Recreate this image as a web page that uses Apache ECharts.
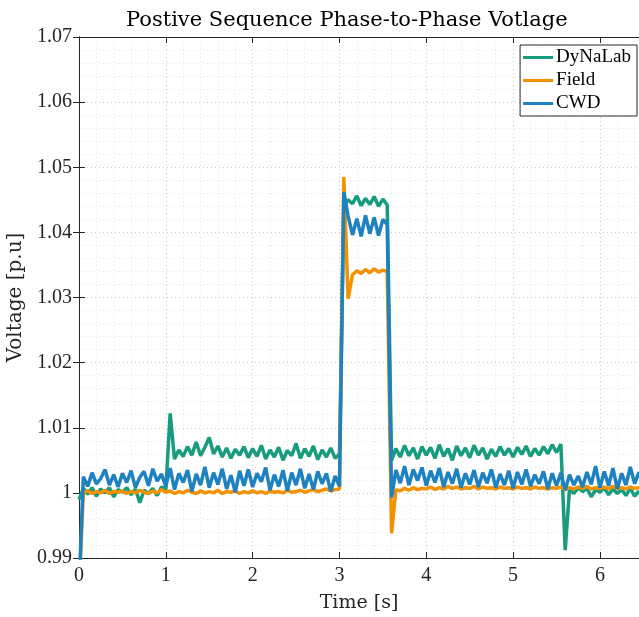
<!DOCTYPE html>
<html>
<head>
<meta charset="utf-8">
<script src="https://cdn.jsdelivr.net/npm/echarts@6/dist/echarts.min.js"></script>
<style>
  html, body { margin: 0; padding: 0; background: #fff; }
  #chart { width: 639px; height: 617px; }
</style>
</head>
<body>
<div id="chart"></div>
<script>
// sample times [s]
var time = [
    0.00, 0.05, 0.10, 0.15, 0.20, 0.25, 0.30, 0.35, 0.40, 0.45,
    0.50, 0.55, 0.60, 0.65, 0.70, 0.75, 0.80, 0.85, 0.90, 0.95,
    1.00, 1.05, 1.10, 1.15, 1.20, 1.25, 1.30, 1.35, 1.40, 1.45,
    1.50, 1.55, 1.60, 1.65, 1.70, 1.75, 1.80, 1.85, 1.90, 1.95,
    2.00, 2.05, 2.10, 2.15, 2.20, 2.25, 2.30, 2.35, 2.40, 2.45,
    2.50, 2.55, 2.60, 2.65, 2.70, 2.75, 2.80, 2.85, 2.90, 2.95,
    3.00, 3.05, 3.10, 3.15, 3.20, 3.25, 3.30, 3.35, 3.40, 3.45,
    3.50, 3.55, 3.60, 3.65, 3.70, 3.75, 3.80, 3.85, 3.90, 3.95,
    4.00, 4.05, 4.10, 4.15, 4.20, 4.25, 4.30, 4.35, 4.40, 4.45,
    4.50, 4.55, 4.60, 4.65, 4.70, 4.75, 4.80, 4.85, 4.90, 4.95,
    5.00, 5.05, 5.10, 5.15, 5.20, 5.25, 5.30, 5.35, 5.40, 5.45,
    5.50, 5.55, 5.60, 5.65, 5.70, 5.75, 5.80, 5.85, 5.90, 5.95,
    6.00, 6.05, 6.10, 6.15, 6.20, 6.25, 6.30, 6.35, 6.40, 6.45
];

var dynalab = [
    0.9990, 1.0007, 0.9998, 1.0008, 0.9995, 1.0006, 1.0000, 1.0008, 0.9994, 1.0005,
    1.0001, 1.0008, 0.9997, 1.0006, 0.9985, 1.0004, 0.9999, 1.0007, 0.9996, 1.0009,
    1.0005, 1.0122, 1.0052, 1.0066, 1.0056, 1.0071, 1.0058, 1.0078, 1.0057, 1.0070,
    1.0085, 1.0060, 1.0072, 1.0055, 1.0069, 1.0053, 1.0067, 1.0058, 1.0071, 1.0054,
    1.0068, 1.0056, 1.0073, 1.0052, 1.0066, 1.0055, 1.0070, 1.0050, 1.0065, 1.0057,
    1.0076, 1.0053, 1.0068, 1.0056, 1.0072, 1.0051, 1.0066, 1.0055, 1.0069, 1.0053,
    1.0060, 1.0440, 1.0450, 1.0444, 1.0456, 1.0441, 1.0452, 1.0443, 1.0455, 1.0440,
    1.0451, 1.0442, 1.0050, 1.0068, 1.0055, 1.0073, 1.0057, 1.0069, 1.0052, 1.0071,
    1.0058, 1.0070, 1.0053, 1.0074, 1.0056, 1.0068, 1.0050, 1.0072, 1.0057, 1.0069,
    1.0054, 1.0073, 1.0058, 1.0069, 1.0052, 1.0067, 1.0056, 1.0071, 1.0058, 1.0068,
    1.0055, 1.0070, 1.0059, 1.0072, 1.0056, 1.0068, 1.0058, 1.0071, 1.0060, 1.0074,
    1.0062, 1.0075, 0.9912, 1.0006, 0.9999, 1.0008, 1.0002, 1.0007, 0.9994, 1.0005,
    1.0001, 1.0008, 0.9997, 1.0006, 0.9999, 1.0005, 0.9996, 1.0007, 0.9995, 1.0003
];

var field = [
    0.9850, 1.0000, 1.0003, 0.9999, 1.0002, 1.0000, 1.0004, 0.9999, 1.0002, 1.0001,
    1.0003, 0.9999, 1.0002, 1.0000, 1.0004, 1.0001, 0.9999, 1.0003, 1.0000, 1.0005,
    1.0001, 1.0003, 0.9999, 1.0002, 1.0000, 1.0004, 1.0001, 0.9999, 1.0003, 1.0000,
    1.0002, 1.0000, 1.0004, 0.9999, 1.0002, 1.0001, 1.0003, 0.9999, 1.0002, 1.0000,
    1.0003, 1.0000, 1.0002, 0.9999, 1.0003, 1.0001, 1.0002, 1.0000, 1.0004, 1.0001,
    1.0002, 1.0004, 1.0001, 1.0003, 1.0005, 1.0002, 1.0004, 1.0006, 1.0003, 1.0005,
    1.0006, 1.0485, 1.0298, 1.0335, 1.0341, 1.0337, 1.0343, 1.0338, 1.0344, 1.0339,
    1.0342, 1.0340, 0.9938, 1.0005, 1.0003, 1.0007, 1.0004, 1.0008, 1.0005, 1.0007,
    1.0006, 1.0009, 1.0005, 1.0008, 1.0006, 1.0010, 1.0007, 1.0009, 1.0006, 1.0008,
    1.0007, 1.0010, 1.0006, 1.0009, 1.0007, 1.0008, 1.0006, 1.0009, 1.0007, 1.0008,
    1.0006, 1.0009, 1.0007, 1.0008, 1.0006, 1.0009, 1.0007, 1.0008, 1.0006, 1.0008,
    1.0007, 1.0009, 1.0005, 1.0008, 1.0006, 1.0009, 1.0007, 1.0010, 1.0006, 1.0008,
    1.0007, 1.0009, 1.0006, 1.0010, 1.0007, 1.0008, 1.0006, 1.0009, 1.0007, 1.0008
];

var cwd = [
    0.9850, 1.0025, 1.0010, 1.0031, 1.0014, 1.0022, 1.0036, 1.0012, 1.0028, 1.0009,
    1.0030, 1.0016, 1.0034, 1.0008, 1.0024, 1.0033, 1.0011, 1.0037, 1.0018, 1.0029,
    1.0010, 1.0038, 1.0005, 1.0030, 1.0016, 1.0035, 1.0002, 1.0029, 1.0012, 1.0040,
    1.0008, 1.0031, 1.0013, 1.0037, 1.0006, 1.0027, 1.0001, 1.0034, 1.0011, 1.0036,
    1.0009, 1.0030, 1.0017, 1.0039, 1.0004, 1.0028, 1.0010, 1.0035, 1.0003, 1.0031,
    1.0012, 1.0037, 1.0007, 1.0029, 1.0005, 1.0033, 1.0014, 1.0030, 1.0002, 1.0026,
    1.0010, 1.0462, 1.0425, 1.0396, 1.0421, 1.0394, 1.0426, 1.0398, 1.0423, 1.0395,
    1.0420, 1.0412, 0.9993, 1.0035, 1.0015, 1.0041, 1.0012, 1.0036, 1.0019, 1.0039,
    1.0011, 1.0034, 1.0016, 1.0038, 1.0009, 1.0032, 1.0014, 1.0037, 1.0008, 1.0030,
    1.0013, 1.0035, 1.0009, 1.0031, 1.0015, 1.0036, 1.0008, 1.0029, 1.0012, 1.0034,
    1.0007, 1.0032, 1.0013, 1.0036, 1.0010, 1.0028, 1.0014, 1.0033, 1.0006, 1.0030,
    1.0011, 1.0031, 1.0004, 1.0028, 1.0012, 1.0026, 1.0009, 1.0032, 1.0013, 1.0041,
    1.0008, 1.0033, 1.0011, 1.0038, 1.0006, 1.0030, 1.0012, 1.0040, 1.0014, 1.0032
];

var seriesNames = ['DyNaLab', 'Field', 'CWD'];
var colors = ['#179c7d', '#f39200', '#1f82c0'];

function pairs(values) {
    return time.map(function (t, i) { return [t, values[i]]; });
}

var font = 'Liberation Serif';
var wideFont = 'DejaVu Serif';
var axisColor = '#262626';

var chart = echarts.init(document.getElementById('chart'), null, { renderer: 'canvas' });

var boxAxis = {
    axisLine: { show: true, lineStyle: { color: axisColor, width: 1 } },
    axisTick: { show: true, inside: true, length: 6, lineStyle: { color: axisColor } },
    axisLabel: { show: false },
    splitLine: { show: false }
};

var option = {
    animation: false,
    backgroundColor: '#fff',
    color: colors,
    title: {
        text: 'Postive Sequence Phase-to-Phase Votlage',
        left: 121,
        top: 5,
        textStyle: { fontFamily: wideFont, fontSize: 21, fontWeight: 'normal', color: '#000' }
    },
    legend: {
        orient: 'vertical',
        right: 2,
        top: 45,
        data: seriesNames,
        icon: 'rect',
        itemWidth: 30,
        itemHeight: 3,
        itemGap: 4,
        padding: [3, 6, 3, 3],
        backgroundColor: '#fff',
        borderColor: axisColor,
        borderWidth: 1,
        textStyle: { fontFamily: font, fontSize: 19, color: '#000', padding: [0, 0, 0, -2] }
    },
    grid: { left: 79, right: 0, top: 37, bottom: 59, containLabel: false, outerBoundsMode: 'none' },
    xAxis: [{
        type: 'value',
        min: 0,
        max: 6.45,
        interval: 1,
        name: 'Time [s]',
        nameLocation: 'middle',
        nameGap: 36,
        nameTextStyle: { fontFamily: wideFont, fontSize: 19, color: axisColor },
        axisLine: { show: true, lineStyle: { color: axisColor, width: 1 } },
        axisTick: { show: true, inside: true, length: 6, lineStyle: { color: axisColor } },
        axisLabel: { fontFamily: font, fontSize: 20, color: axisColor, margin: 8, showMaxLabel: false },
        minorTick: { show: false, splitNumber: 5 },
        splitLine: { show: true, lineStyle: { color: '#c8c8c8', type: [1, 3] } },
        minorSplitLine: { show: true, lineStyle: { color: '#e6e6e6', type: [1, 3] } }
    }, Object.assign({
        type: 'value', position: 'top', min: 0, max: 6.45, interval: 1
    }, boxAxis)],
    yAxis: [{
        type: 'value',
        min: 0.99,
        max: 1.07,
        interval: 0.01,
        name: 'Voltage [p.u]',
        nameLocation: 'middle',
        nameGap: 47,
        nameTextStyle: { fontFamily: wideFont, fontSize: 20, color: axisColor },
        axisLine: { show: true, lineStyle: { color: axisColor, width: 1 } },
        axisTick: { show: true, inside: true, length: 6, lineStyle: { color: axisColor } },
        axisLabel: {
            fontFamily: font, fontSize: 20, color: axisColor, margin: 7,
            formatter: function (v) { return String(Math.round(v * 100) / 100); }
        },
        minorTick: { show: false, splitNumber: 5 },
        splitLine: { show: true, lineStyle: { color: '#c8c8c8', type: [1, 3] } },
        minorSplitLine: { show: true, lineStyle: { color: '#e6e6e6', type: [1, 3] } }
    }, Object.assign({
        type: 'value', position: 'right', min: 0.99, max: 1.07, interval: 0.01
    }, boxAxis)],
    series: [
        { name: seriesNames[0], type: 'line', data: pairs(dynalab) },
        { name: seriesNames[1], type: 'line', data: pairs(field) },
        { name: seriesNames[2], type: 'line', data: pairs(cwd) }
    ].map(function (s, i) {
        s.showSymbol = false;
        s.symbol = 'none';
        s.clip = true;
        s.lineStyle = { width: 3.5, color: colors[i] };
        s.itemStyle = { color: colors[i] };
        return s;
    })
};

chart.setOption(option);
</script>
</body>
</html>
